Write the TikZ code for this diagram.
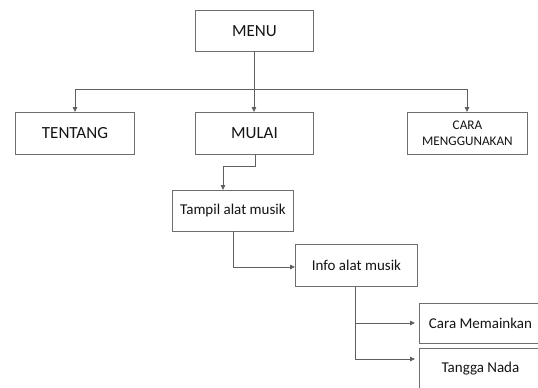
\documentclass[tikz,border=0pt]{standalone}
\usepackage{fontspec}
\setmainfont{Carlito}
\usetikzlibrary{arrows.meta}
\definecolor{linec}{RGB}{95,95,95}
\definecolor{boxc}{RGB}{110,110,110}
\definecolor{textc}{RGB}{20,20,20}
\tikzset{
  menubox/.style={draw=boxc, line width=0.9pt, fill=white, text=textc, inner sep=0pt, anchor=north west},
  bigtext/.style={font=\fontsize{17}{19}\selectfont},
  midtext/.style={font=\fontsize{15}{17}\selectfont},
  conn/.style={draw=linec, line width=0.8pt, -{Triangle[length=5pt,width=4.5pt]}},
  plainconn/.style={draw=linec, line width=0.8pt},
}
\begin{document}
\begin{tikzpicture}[x=1pt,y=-1pt]
\useasboundingbox (0,0) rectangle (538,388);
\clip (0,0) rectangle (538,388);
% boxes
\node[menubox, bigtext, minimum width=118pt, minimum height=41pt] (menu) at (195,10) {MENU};
\node[menubox, bigtext, minimum width=119pt, minimum height=42pt] (tentang) at (15,112) {TENTANG};
\node[menubox, bigtext, minimum width=118pt, minimum height=42pt] (mulai) at (195,112) {MULAI};
\node[menubox, minimum width=120pt, minimum height=42pt, font=\fontsize{13.2}{16}\selectfont, align=center] (cara) at (407,112) {CARA\\MENGGUNAKAN};
\node[menubox, midtext, minimum width=121pt, minimum height=41pt] (tampil) at (172,190) {Tampil alat musik};
\node[menubox, midtext, minimum width=122pt, minimum height=42pt] (info) at (295,244) {Info alat musik};
\node[menubox, midtext, minimum width=122pt, minimum height=40pt] (carami) at (419,303) {Cara Memainkan};
\node[menubox, midtext, minimum width=122pt, minimum height=41pt] (tangga) at (419,348) {Tangga Nada};
% connectors
\coordinate (hb) at (254,89);
\draw[plainconn] (menu.south -| hb) -- (hb);
\draw[conn] (hb) -- (hb |- mulai.north);
\draw[conn] (hb) -- (75,89) -- (75,112);
\draw[conn] (hb) -- (467,89) -- (467,112);
\coordinate (m1) at (255,166);
\draw[conn] (mulai.south -| m1) -- (m1) -- (223,166) -- (223,190);
\coordinate (t1) at (233,267);
\draw[conn] (tampil.south -| t1) -- (t1) -- (t1 -| info.west);
\coordinate (i1) at (355,323);
\coordinate (i2) at (355,359);
\draw[plainconn] (info.south -| i1) -- (i2);
\draw[conn] (i1) -- ([xshift=-4pt]i1 -| carami.west);
\draw[conn] (i2) -- ([xshift=-4pt]i2 -| tangga.west);
\end{tikzpicture}
\end{document}
